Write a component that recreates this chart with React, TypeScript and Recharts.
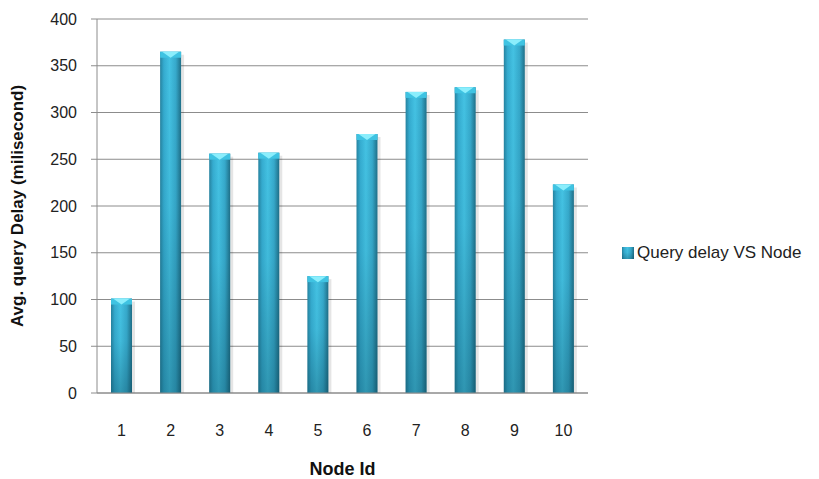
import React from "react";
import {Bar, BarChart, CartesianGrid, Legend, XAxis, YAxis} from "recharts";

const nodeIds = ["1", "2", "3", "4", "5", "6", "7", "8", "9", "10"];
const queryDelay = [101, 365, 256, 257, 125, 277, 322, 327, 378, 223];
const yTicks = [0, 50, 100, 150, 200, 250, 300, 350, 400];

const SERIES_NAME = "Query delay VS Node";
const FONT = "'Liberation Sans', Arial, sans-serif";

const data = nodeIds.map((id, i) => ({node: id, delay: queryDelay[i]}));

const CylinderBar = (props: any) => {
  const {x, y, width, height} = props;
  if (!height || height <= 0) return null;
  const cap = 6;
  return (
    <g>
      <rect x={x + width} y={y + 3} width={3} height={height - 3} fill="rgba(0,0,0,0.1)" />
      <rect x={x} y={y} width={width} height={height} fill="url(#barSide)" />
      <rect x={x} y={y} width={width} height={height} fill="url(#barShade)" />
      <rect x={x} y={y} width={width} height={cap} fill="#3fc3e2" />
      <polygon points={`${x + 2},${y} ${x + width - 2},${y} ${x + width / 2},${y + cap}`} fill="#8beefc" />
    </g>
  );
};

const LegendContent = () => (
  <div style={{display: "flex", alignItems: "center", fontFamily: FONT, fontSize: 17, color: "#222", whiteSpace: "nowrap"}}>
    <svg width={12} height={12} style={{marginRight: 3}}>
      <rect x={0} y={0} width={12} height={12} fill="url(#barSide)" />
      <rect x={0} y={0} width={12} height={12} fill="url(#barShade)" />
    </svg>
    <span>{SERIES_NAME}</span>
  </div>
);

export default function App() {
  return (
    <div style={{position: "absolute", left: 0, top: 0, background: "#fff"}}>
      <BarChart
        width={819}
        height={479}
        data={data}
        margin={{top: 19, right: 41, bottom: 0, left: 0}}
      >
        <defs>
          <linearGradient id="barSide" x1="0" y1="0" x2="1" y2="0">
            <stop offset="0%" stopColor="#2683a0" />
            <stop offset="18%" stopColor="#35acd0" />
            <stop offset="45%" stopColor="#44c2e3" />
            <stop offset="75%" stopColor="#36a9cb" />
            <stop offset="100%" stopColor="#1f6f88" />
          </linearGradient>
          <linearGradient id="barShade" x1="0" y1="0" x2="0" y2="1">
            <stop offset="0%" stopColor="#00303f" stopOpacity={0} />
            <stop offset="45%" stopColor="#00303f" stopOpacity={0.05} />
            <stop offset="100%" stopColor="#00303f" stopOpacity={0.3} />
          </linearGradient>
        </defs>
        <CartesianGrid vertical={false} stroke="#8c8c8c" strokeWidth={1} />
        <XAxis
          dataKey="node"
          height={86}
          axisLine={{stroke: "#8c8c8c"}}
          tickLine={false}
          tickMargin={26}
          tick={{fill: "#222", fontSize: 16, fontFamily: FONT}}
          label={{
            value: "Node Id",
            position: "insideBottom",
            offset: 4,
            fill: "#111",
            fontSize: 18,
            fontWeight: "bold",
            fontFamily: FONT,
          }}
        />
        <YAxis
          width={97}
          domain={[0, 400]}
          ticks={yTicks}
          interval={0}
          axisLine={{stroke: "#8c8c8c"}}
          tickLine={{stroke: "#8c8c8c"}}
          tickSize={6}
          tickMargin={14}
          tick={{fill: "#222", fontSize: 16, fontFamily: FONT}}
          label={{
            value: "Avg. query Delay  (milisecond)",
            angle: -90,
            position: "insideLeft",
            offset: 17,
            style: {textAnchor: "middle"},
            fill: "#111",
            fontSize: 17,
            fontWeight: "bold",
            fontFamily: FONT,
          }}
        />
        <Legend
          layout="horizontal"
          align="right"
          verticalAlign="middle"
          content={LegendContent}
          wrapperStyle={{left: 622, top: 243, width: 190}}
        />
        <Bar
          dataKey="delay"
          name={SERIES_NAME}
          barSize={21}
          shape={CylinderBar}
          isAnimationActive={false}
        />
      </BarChart>
    </div>
  );
}
